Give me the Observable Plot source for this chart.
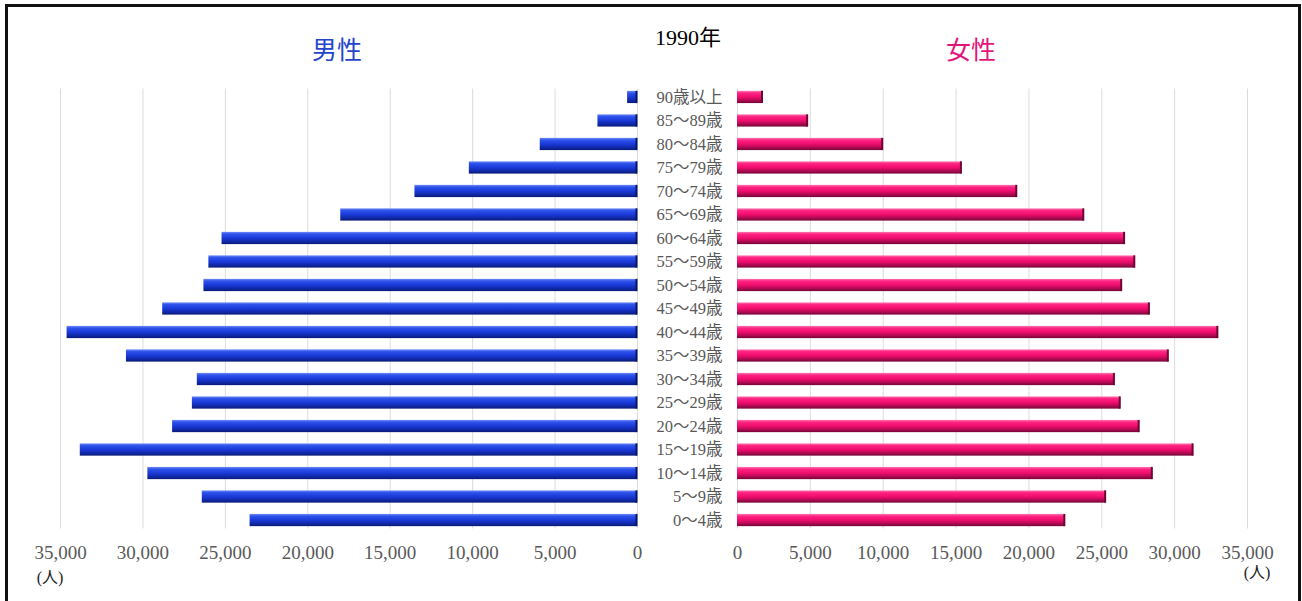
<!DOCTYPE html>
<html>
<head>
<meta charset="utf-8">
<script src="https://cdn.jsdelivr.net/npm/d3@7"></script>
<script src="https://cdn.jsdelivr.net/npm/@observablehq/plot@0.6"></script>
<style>
  html, body { margin: 0; padding: 0; background: #fff; }
  #page { position: relative; width: 1302px; height: 601px; overflow: hidden; background: #fff; }
  #frame { position: absolute; left: 5px; top: 4px; width: 1296px; height: 700px;
           border: 3px solid #111; box-sizing: border-box; }
  .lbl { position: absolute; white-space: nowrap; transform: translate(-50%, -50%); line-height: 1; }
  .side { font-family: "Noto Sans CJK JP", sans-serif; font-size: 25px; }
  .serif { font-family: "Liberation Serif", "Noto Sans CJK JP", serif; }
  #leftPlot, #rightPlot { position: absolute; top: 0; }
  #leftPlot { left: 0; }
  #rightPlot { left: 725px; }
</style>
</head>
<body>
<div id="page">
  <div id="frame"></div>
  <div id="leftPlot"></div>
  <div id="rightPlot"></div>
  <div class="lbl side" style="left:337px; top:48px; color:#2444cc;">男性</div>
  <div class="lbl side" style="left:971px; top:48px; color:#e2157a;">女性</div>
  <div class="lbl serif" style="left:688px; top:38px; font-size:22px; color:#000;">1990年</div>
  <div class="lbl serif" style="left:50px; top:578px; font-size:16px; color:#222;">(人)</div>
  <div class="lbl serif" style="left:1257px; top:573px; font-size:16px; color:#222;">(人)</div>
</div>
<script>
// Age groups, oldest at the top
const ages = [
  "90歳以上", "85～89歳", "80～84歳", "75～79歳", "70～74歳", "65～69歳",
  "60～64歳", "55～59歳", "50～54歳", "45～49歳", "40～44歳", "35～39歳",
  "30～34歳", "25～29歳", "20～24歳", "15～19歳", "10～14歳", "5～9歳", "0～4歳"
];
// Population (persons), 1990
const male = [
  600, 2400, 5900, 10200, 13500, 18000,
  25200, 26000, 26300, 28800, 34600, 31000,
  26700, 27000, 28200, 33800, 29700, 26400, 23500
];
const female = [
  1750, 4850, 10000, 15400, 19200, 23800,
  26600, 27300, 26400, 28300, 33000, 29600,
  25900, 26300, 27600, 31300, 28500, 25300, 22500
];
const xTicks = [0, 5000, 10000, 15000, 20000, 25000, 30000, 35000];

const rows = ages.map((age, i) => ({age, male: male[i], female: female[i]}));

const fontSerif = "'Liberation Serif', 'Noto Sans CJK JP', serif";
const yScale = {domain: ages, paddingInner: 0.48, paddingOuter: 0.1, round: false, label: null};
const common = {
  height: 601,
  marginTop: 88.5,
  marginBottom: 72.5,
  style: {background: "transparent", fontFamily: fontSerif, color: "#595959", overflow: "visible", maxWidth: "none"}
};
const tickAxis = {anchor: "bottom", tickSize: 0, tickPadding: 16, tickFormat: d3.format(","), fontSize: 19, fill: "#595959"};

// Male: bars grow leftward from zero, age labels sit right of the zero line
const left = Plot.plot({
  ...common,
  width: 725,
  marginLeft: 60,
  marginRight: 88,
  x: {domain: [0, 35000], reverse: true, label: null},
  y: yScale,
  marks: [
    Plot.gridX(xTicks, {stroke: "#dcdcdc", strokeOpacity: 1}),
    Plot.barX(rows, {y: "age", x: "male", fill: "url(#gradMale)"}),
    Plot.tickX(rows, {y: "age", x: 0, stroke: "#06156b", strokeWidth: 2, dx: -1}),
    Plot.axisX(xTicks, tickAxis),
    Plot.axisY({anchor: "right", tickSize: 0, tickPadding: 85, textAnchor: "end", fontSize: 16.5, fill: "#595959"})
  ]
});

// Female: bars grow rightward on their own scale
const right = Plot.plot({
  ...common,
  width: 577,
  marginLeft: 12,
  marginRight: 55,
  x: {domain: [0, 35000], label: null},
  y: {...yScale, axis: null},
  marks: [
    Plot.gridX(xTicks, {stroke: "#dcdcdc", strokeOpacity: 1}),
    Plot.barX(rows, {y: "age", x: "female", fill: "url(#gradFemale)"}),
    Plot.tickX(rows, {y: "age", x: "female", stroke: "#6e0533", strokeWidth: 2, dx: -1}),
    Plot.axisX(xTicks, tickAxis)
  ]
});

// Beveled look for the bars: vertical gradient, light top edge, dark bottom edge
function addGradient(svg, id, stops) {
  const g = d3.select(svg).insert("defs", ":first-child")
    .append("linearGradient").attr("id", id)
    .attr("x1", 0).attr("y1", 0).attr("x2", 0).attr("y2", 1);
  for (const [o, c] of stops) g.append("stop").attr("offset", o).attr("stop-color", c);
}
addGradient(left, "gradMale", [
  [0, "#6f8cf7"], [0.18, "#2e52ea"], [0.5, "#1a3ad9"], [0.78, "#1029a8"], [1, "#0a1a78"]
]);
addGradient(right, "gradFemale", [
  [0, "#ff7ab2"], [0.18, "#ff2483"], [0.5, "#f00d6e"], [0.78, "#b00a52"], [1, "#740537"]
]);

document.getElementById("leftPlot").appendChild(left);
document.getElementById("rightPlot").appendChild(right);
</script>
</body>
</html>
